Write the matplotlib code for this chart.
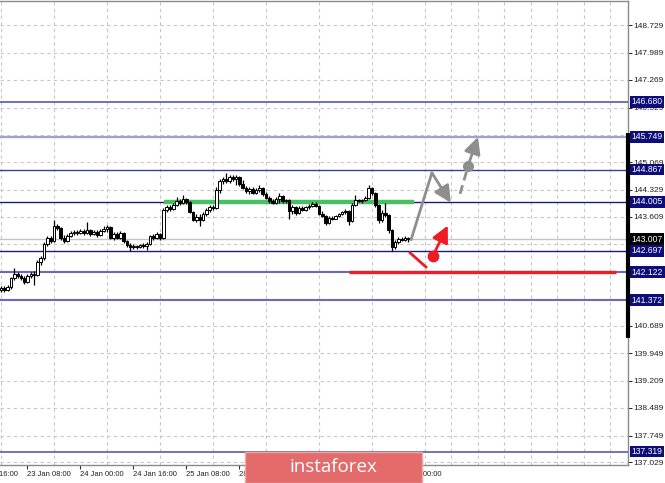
import matplotlib
matplotlib.use("Agg")
import matplotlib.pyplot as plt
import numpy as np
from matplotlib import transforms
from matplotlib.patches import FancyArrowPatch, Rectangle

plt.rcParams["font.family"] = ["Liberation Sans", "DejaVu Sans"]

# hourly candles, bar index 0..123
FIRST_OPEN = 141.65
CLOSES = [
    141.70, 141.65, 141.73, 141.97, 142.08, 142.02, 141.97, 141.86, 142.02, 142.08,
    142.05, 142.40, 142.50, 142.88, 143.04, 142.96, 143.36, 143.31, 143.04, 142.96,
    143.09, 143.17, 143.20, 143.17, 143.23, 143.17, 143.25, 143.15, 143.20, 143.12,
    143.23, 143.28, 143.33, 143.04, 143.15, 143.04, 143.17, 142.96, 142.85, 142.80,
    142.82, 142.80, 142.85, 142.82, 142.88, 143.09, 143.04, 143.15, 143.04, 143.79,
    143.87, 143.82, 143.92, 144.03, 143.98, 144.08, 144.00, 143.74, 143.52, 143.60,
    143.52, 143.68, 143.79, 143.87, 143.84, 144.32, 144.57, 144.62, 144.57, 144.67,
    144.62, 144.67, 144.48, 144.38, 144.30, 144.35, 144.24, 144.32, 144.38, 144.22,
    144.11, 144.03, 143.98, 144.08, 144.16, 144.03, 144.06, 143.76, 143.87, 143.71,
    143.84, 143.79, 143.87, 143.90, 143.95, 143.90, 143.68, 143.63, 143.44, 143.57,
    143.55, 143.63, 143.68, 143.74, 143.76, 143.49, 143.92, 144.06, 144.03, 144.06,
    144.11, 144.38, 144.24, 143.92, 143.52, 143.71, 143.65, 143.25, 142.80, 142.93,
    143.01, 142.99, 143.04, 143.01,
]
HIGHS = [
    141.75, 141.75, 141.78, 141.99, 142.24, 142.13, 142.08, 142.02, 142.08, 142.13,
    142.16, 142.45, 142.56, 142.93, 143.09, 143.09, 143.52, 143.41, 143.33, 143.12,
    143.15, 143.23, 143.25, 143.25, 143.28, 143.28, 143.47, 143.28, 143.25, 143.25,
    143.28, 143.36, 143.39, 143.36, 143.20, 143.20, 143.23, 143.20, 142.99, 142.91,
    142.88, 142.85, 142.88, 142.91, 142.93, 143.12, 143.15, 143.20, 143.17, 143.84,
    143.92, 143.92, 143.98, 144.14, 144.08, 144.19, 144.11, 144.03, 143.76, 143.68,
    143.68, 143.74, 143.84, 143.92, 143.92, 144.40, 144.62, 144.67, 144.78, 144.73,
    144.73, 144.73, 144.70, 144.59, 144.43, 144.40, 144.40, 144.38, 144.46, 144.40,
    144.27, 144.16, 144.08, 144.14, 144.24, 144.19, 144.08, 144.08, 143.92, 143.90,
    143.90, 143.90, 143.90, 143.95, 144.00, 144.00, 143.92, 143.76, 143.65, 143.63,
    143.63, 143.65, 143.71, 143.76, 143.82, 143.79, 143.98, 144.19, 144.08, 144.08,
    144.16, 144.46, 144.40, 144.27, 143.95, 143.79, 143.98, 143.68, 143.28, 142.99,
    143.07, 143.07, 143.09, 143.07,
]
LOWS = [
    141.59, 141.59, 141.62, 141.67, 141.91, 141.97, 141.91, 141.81, 141.83, 141.97,
    141.78, 142.02, 142.32, 142.45, 142.82, 142.91, 142.93, 143.25, 142.99, 142.91,
    142.93, 143.07, 143.12, 143.12, 143.15, 143.12, 143.15, 143.09, 143.12, 143.07,
    143.09, 143.20, 143.20, 143.01, 142.99, 143.01, 143.01, 142.91, 142.80, 142.68,
    142.74, 142.74, 142.77, 142.77, 142.72, 142.85, 142.99, 143.01, 142.99, 143.01,
    143.74, 143.76, 143.79, 143.90, 143.92, 143.95, 143.95, 143.71, 143.49, 143.47,
    143.36, 143.49, 143.63, 143.74, 143.79, 143.82, 144.24, 144.48, 144.51, 144.51,
    144.57, 144.46, 144.43, 144.35, 144.24, 144.22, 144.22, 144.22, 144.27, 144.16,
    144.08, 143.98, 143.95, 143.95, 143.98, 143.98, 143.98, 143.55, 143.68, 143.65,
    143.68, 143.76, 143.76, 143.82, 143.87, 143.87, 143.65, 143.60, 143.39, 143.41,
    143.52, 143.57, 143.60, 143.65, 143.68, 143.39, 143.47, 143.90, 144.00, 143.98,
    144.03, 144.08, 144.19, 143.87, 143.44, 143.47, 143.60, 143.17, 142.69, 142.74,
    142.88, 142.96, 142.96, 142.93,
]

PRICE_TICKS = [148.729, 147.989, 147.269, 146.529, 145.789, 145.069, 144.329,
               143.609, 142.869, 142.149, 141.409, 140.689, 139.949, 139.209,
               138.489, 137.749, 137.029]
# tick labels hidden behind the level boxes
HIDDEN_TICKS = [145.789, 142.869, 142.149, 141.409]
TIME_TICKS = [-8, 8, 24, 40, 56, 72, 88, 104, 120]
# labels fully under the watermark are left empty
TIME_LABELS = ["22 Jan 16:00", "23 Jan 08:00", "24 Jan 00:00", "24 Jan 16:00",
               "25 Jan 08:00", "28 Jan 00:00", "", "", "30 Jan 00:00"]

LEVELS = [146.680, 145.749, 144.867, 144.005, 142.697, 142.122, 141.372, 137.319]
LEVEL_COLORS = ["#4646a8", "#a2a2c8", "#3c3ca2", "#1a1a80", "#1a1a80",
                "#6a6ab8", "#6a6ab8", "#5a5ab0"]
LEVEL_WIDTHS = [1.1, 1.6, 1.0, 1.0, 1.0, 1.5, 1.5, 1.2]
BID = 143.007

GREEN_LEVEL = 144.005
GREEN_SPAN = (49.2, 124.7)
RED_LEVEL = 142.122
RED_SPAN = (105.0, 185.7)

# forecast marks (bar, price)
GRAY_UP_X = [123.8, 130.1]
GRAY_UP_Y = [142.99, 144.78]
GRAY_DOWN_TIP = (135.8, 143.98)
GRAY_DASH_X = [138.6, 140.7]
GRAY_DASH_Y = [144.22, 144.86]
GRAY_DOT = (141.0, 144.97)
GRAY_TIP = (144.0, 145.74)
RED_SEG_X = [123.5, 128.3]
RED_SEG_Y = [142.64, 142.26]
RED_DOT = (130.4, 142.56)
RED_TIP = (134.9, 143.37)

W, H = 665, 483
fig = plt.figure(figsize=(W / 100, H / 100), dpi=100)
ax = fig.add_axes([0, 1 - 465 / H, 628 / W, 464 / H])
ax.set_xlim(-0.3, 189.3)
ax.set_ylim(136.96, 149.38)

# grid
ax.set_axisbelow(True)
ax.set_xticks(range(0, 190, 8), minor=True)
ax.set_xticks(TIME_TICKS[1:])
ax.set_xticklabels([])
ax.set_yticks(PRICE_TICKS)
ax.set_yticklabels(["" if v in HIDDEN_TICKS else f"{v:.3f}" for v in PRICE_TICKS])
ax.grid(True, axis="x", which="minor", color="#c8c8c8", linestyle=(0, (3, 3)), lw=0.8)
ax.grid(True, axis="y", which="major", color="#c8c8c8", linestyle=(0, (3, 3)), lw=0.8)
ax.yaxis.tick_right()
ax.tick_params(axis="y", direction="out", length=3, width=0.6, pad=1,
               labelsize=6, labelcolor="#202020")
ax.tick_params(axis="x", which="major", direction="out", length=3, width=0.8, color="#303030")
ax.tick_params(axis="x", which="minor", length=0)
for side in ("top", "right", "bottom"):
    ax.spines[side].set_color("#8a8a8a")
    ax.spines[side].set_linewidth(1.0)
ax.spines["left"].set_visible(False)

for tick, lab in zip(TIME_TICKS, TIME_LABELS):
    if not lab:
        continue
    ax.annotate(lab, xy=(tick, 0), xycoords=("data", "axes fraction"),
                xytext=(0, -4.5), textcoords="offset points", ha="left", va="top",
                fontsize=5.5, color="#202020", annotation_clip=False)

# levels
ax.axhline(BID, color="#c4c4c4", lw=1.0, zorder=1.5)
for lvl, col, lw in zip(LEVELS, LEVEL_COLORS, LEVEL_WIDTHS):
    ax.axhline(lvl, color=col, lw=lw, zorder=2)
ax.plot(GREEN_SPAN, [GREEN_LEVEL, GREEN_LEVEL], color="#46c060", lw=3.2,
        solid_capstyle="butt", zorder=2.2)
ax.plot(RED_SPAN, [RED_LEVEL, RED_LEVEL], color="#e8202a", lw=2.4,
        solid_capstyle="butt", zorder=2.2)

# candles
o = np.array([FIRST_OPEN] + CLOSES[:-1])
c = np.array(CLOSES)
xs = np.arange(len(c))
up = c >= o
ax.vlines(xs, LOWS, HIGHS, color="black", lw=0.9, zorder=3)
ax.bar(xs[up], (c - o)[up], bottom=o[up], width=0.78, facecolor="white",
       edgecolor="black", lw=0.7, zorder=4)
ax.bar(xs[~up], (c - o)[~up], bottom=o[~up], width=0.78, facecolor="black",
       edgecolor="black", lw=0.7, zorder=4)

# forecast arrows
gray = "#8e8e8e"
head = "-|>,head_length=1.0,head_width=0.5"
ax.plot(GRAY_UP_X, GRAY_UP_Y, color=gray, lw=2.0, solid_capstyle="round", zorder=5)
ax.add_patch(FancyArrowPatch((GRAY_UP_X[-1], GRAY_UP_Y[-1]), GRAY_DOWN_TIP,
                             arrowstyle=head, mutation_scale=10, color=gray, lw=2.0,
                             shrinkA=0, shrinkB=0, zorder=5))
ax.plot(GRAY_DASH_X, GRAY_DASH_Y, color=gray, lw=2.0, linestyle=(0, (3.2, 1.8)), zorder=5)
ax.add_patch(FancyArrowPatch(GRAY_DOT, GRAY_TIP,
                             arrowstyle=head, mutation_scale=10, color=gray, lw=2.0,
                             shrinkA=0, shrinkB=0, zorder=5))
ax.plot(*GRAY_DOT, "o", color=gray, ms=7, zorder=6)

red = "#ee1c24"
ax.plot(RED_SEG_X, RED_SEG_Y, color=red, lw=2.0, zorder=5)
ax.add_patch(FancyArrowPatch(RED_DOT, RED_TIP,
                             arrowstyle=head, mutation_scale=10, color=red, lw=2.0,
                             shrinkA=0, shrinkB=0, zorder=5))
ax.plot(*RED_DOT, "o", color=red, ms=7.5, zorder=6)

# right scale marks
blend = transforms.blended_transform_factory(ax.transAxes, ax.transData)
ax.plot([1, 1], [145.85, 140.36], transform=blend, color="black", lw=3,
        solid_capstyle="butt", clip_on=False, zorder=7)
for lvl in LEVELS:
    ax.text(1.006, lvl, f"{lvl:.3f}", transform=blend, ha="left", va="center",
            fontsize=6.2, color="white", clip_on=False, zorder=8,
            bbox=dict(boxstyle="square,pad=0.16", fc="#0c0c7a", ec="none"))
ax.text(1.006, BID, f"{BID:.3f}", transform=blend, ha="left", va="center",
        fontsize=6.2, color="white", clip_on=False, zorder=8,
        bbox=dict(boxstyle="square,pad=0.16", fc="black", ec="none"))

# watermark
fig.patches.append(Rectangle((245 / W, 0), (422 - 245) / W, (H - 452) / H,
                             transform=fig.transFigure, fc="#e36b6b",
                             ec="#f2a5a5", lw=1, zorder=10))
fig.text(333 / W, 1 - 467 / H, "instaforex", color="white", fontsize=13.5,
         family=["Open Sans", "DejaVu Sans"], ha="center", va="center", zorder=11)

fig.savefig("out.png", dpi=100)
